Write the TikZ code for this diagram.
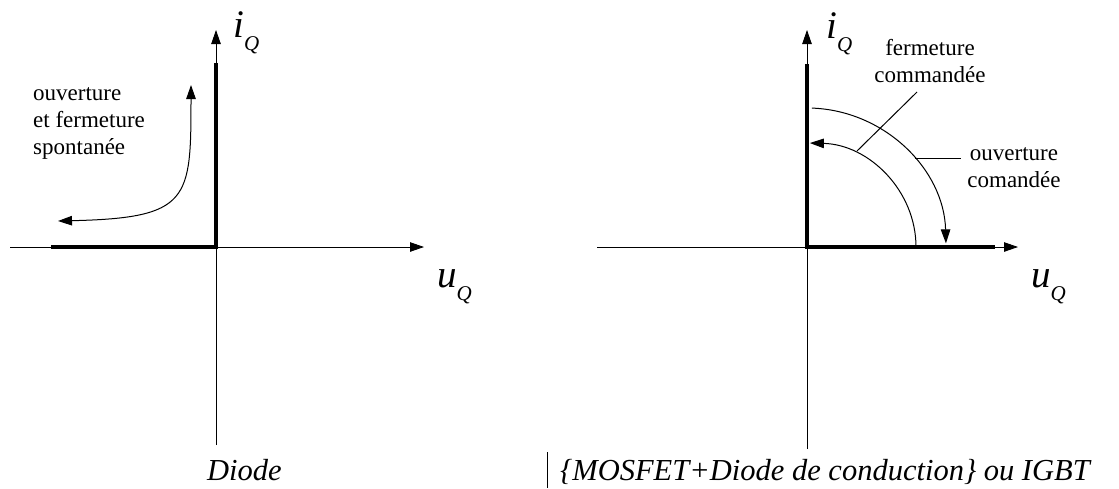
\documentclass[tikz,border=0pt]{standalone}
\usepackage{fontspec}
\setmainfont{Liberation Serif}
\usetikzlibrary{arrows.meta,calc}
\tikzset{
  >={Triangle[length=14pt,width=9.5pt]},
  axe/.style={line width=0.8pt,->},
  carac/.style={line width=4.6pt},
  mvt/.style={line width=1pt},
  trait/.style={line width=1pt},
  lbl/.style={font=\fontsize{23}{27}\selectfont,inner sep=0pt},
  grd/.style={inner sep=0pt,anchor=base west},
  ttl/.style={font=\fontsize{30.5}{31}\selectfont\itshape,inner sep=0pt,anchor=base west}
}
\newcommand{\grandeur}[2]{{\fontsize{39}{39}\selectfont\itshape #1}\kern#2\raisebox{-13pt}{\fontsize{21}{21}\selectfont\itshape Q}}

\begin{document}
\begin{tikzpicture}[x=1pt,y=1pt]
  \useasboundingbox (0,0) rectangle (1119,-488);

  % Diode
  \coordinate (O1) at (216,-247);
  \coordinate (xa1) at (10,-247);
  \coordinate (xb1) at (424,-247);
  \coordinate (ya1) at (216,-445);
  \coordinate (yb1) at (216,-30);
  \draw[axe] (xa1) -- (xb1);
  \draw[axe] (ya1) -- (yb1);
  \draw[carac] (51,-247) -- (O1) -- (216,-63);
  \draw[mvt,<->] (58,-221) .. controls (190,-218) and (191,-200) .. (191,-85);
  % base = derniere ligne
  \node[lbl, align=left, anchor=base west] (spont) at (33,-154) {ouverture\\et fermeture\\spontanée};
  \node[grd] (iq1) at (233,-37) {\grandeur{i}{0pt}};
  \node[grd] (uq1) at (437,-287) {\grandeur{u}{0pt}};

  % MOSFET / IGBT
  \coordinate (O2) at (807,-247);
  \coordinate (xa2) at (597,-247);
  \coordinate (xb2) at (1018,-247);
  \coordinate (ya2) at (807,-449);
  \coordinate (yb2) at (807,-30);
  \draw[axe] (xa2) -- (xb2);
  \draw[axe] (ya2) -- (yb2);
  \draw[carac] (995,-247) -- (O2) -- (807,-64);
  \draw[mvt,->] ($(O2)+(88:139)$) arc[start angle=88,end angle=1.5,radius=139];
  \draw[mvt,->] ($(O2)+(109,0)$) arc[start angle=0,end angle=88.5,x radius=109,y radius=104];
  \node[lbl, align=center, anchor=base] (ferm) at (930,-82) {fermeture\\commandée};
  \node[lbl, align=center, anchor=base, inner xsep=6pt] (ouv) at (1014,-187) {ouverture\\comandée};
  \coordinate (fa) at (917,-92);
  \coordinate (fb) at (857,-151);
  \coordinate (oa) at (915,-158);
  \draw[trait] (fa) -- (fb);
  \draw[trait] (oa) -- (ouv.west |- oa);
  \node[grd] (iq2) at (826,-38) {\grandeur{i}{0pt}};
  \node[grd] (uq2) at (1031,-287) {\grandeur{u}{0pt}};

  % legendes
  \node[ttl] (diode) at (207,-480) {Diode};
  \node[ttl] (igbt) at (560,-480) {\{MOSFET+Diode de conduction\} ou IGBT};
  \coordinate (sa) at (547,-452);
  \coordinate (sb) at (547,-488);
  \draw[trait] (sa) -- (sb);
\end{tikzpicture}
\end{document}
